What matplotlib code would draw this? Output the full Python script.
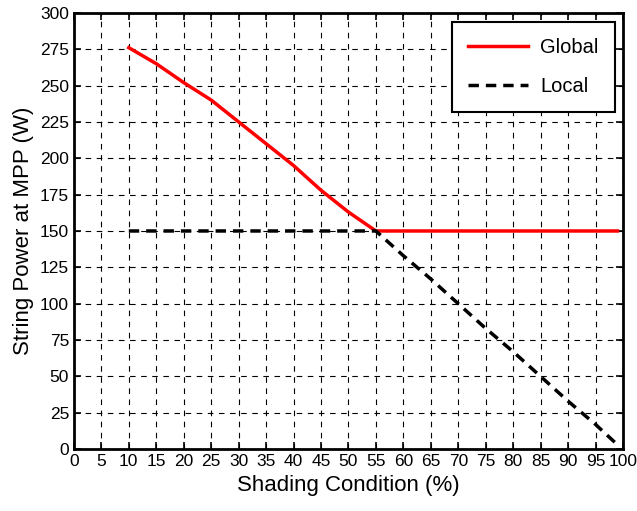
import numpy as np
import matplotlib.pyplot as plt

plt.rcParams['font.family'] = ['Liberation Sans', 'DejaVu Sans']

# shading condition (%)
shading = [10, 15, 20, 25, 30, 35, 40, 45, 50, 55, 60, 65, 70, 75, 80, 85, 90, 95, 99]
# string power at MPP (W)
global_p = [276, 265, 252, 240, 225, 210, 195, 178, 163, 150, 150, 150, 150, 150, 150, 150, 150, 150, 150]
local_p = [150, 150, 150, 150, 150, 150, 150, 150, 150, 150, 133, 117, 100, 83, 67, 50, 33, 17, 3]

fig = plt.figure(figsize=(6.37, 5.11), dpi=100)
ax = fig.add_axes([0.116, 0.121, 0.862, 0.854])

ax.plot(shading, global_p, color='red', lw=2.5, label='Global')
ax.plot(shading, local_p, color='black', lw=2.5, ls=(0, (3, 2)), label='Local')

ax.set_xlim(0, 100)
ax.set_ylim(0, 300)
ax.set_xticks(np.arange(0, 101, 5))
ax.set_yticks(np.arange(0, 301, 25))
ax.tick_params(direction='in', top=True, right=True, labelsize=12.5, length=5, width=1.2)
ax.grid(True, color='black', ls=(0, (5, 5)), lw=0.8)
for s in ax.spines.values():
    s.set_linewidth(2)

ax.set_xlabel('Shading Condition (%)', fontsize=16)
ax.set_ylabel('String Power at MPP (W)', fontsize=16)

leg = ax.legend(loc='upper right', fontsize=14.5, fancybox=False, framealpha=1,
                edgecolor='black', handlelength=3.0, handletextpad=0.6,
                borderpad=0.8, labelspacing=1.0,
                borderaxespad=0, bbox_to_anchor=(0.985, 0.979))
leg.get_frame().set_linewidth(1.5)

plt.savefig('out.png', dpi=100)
